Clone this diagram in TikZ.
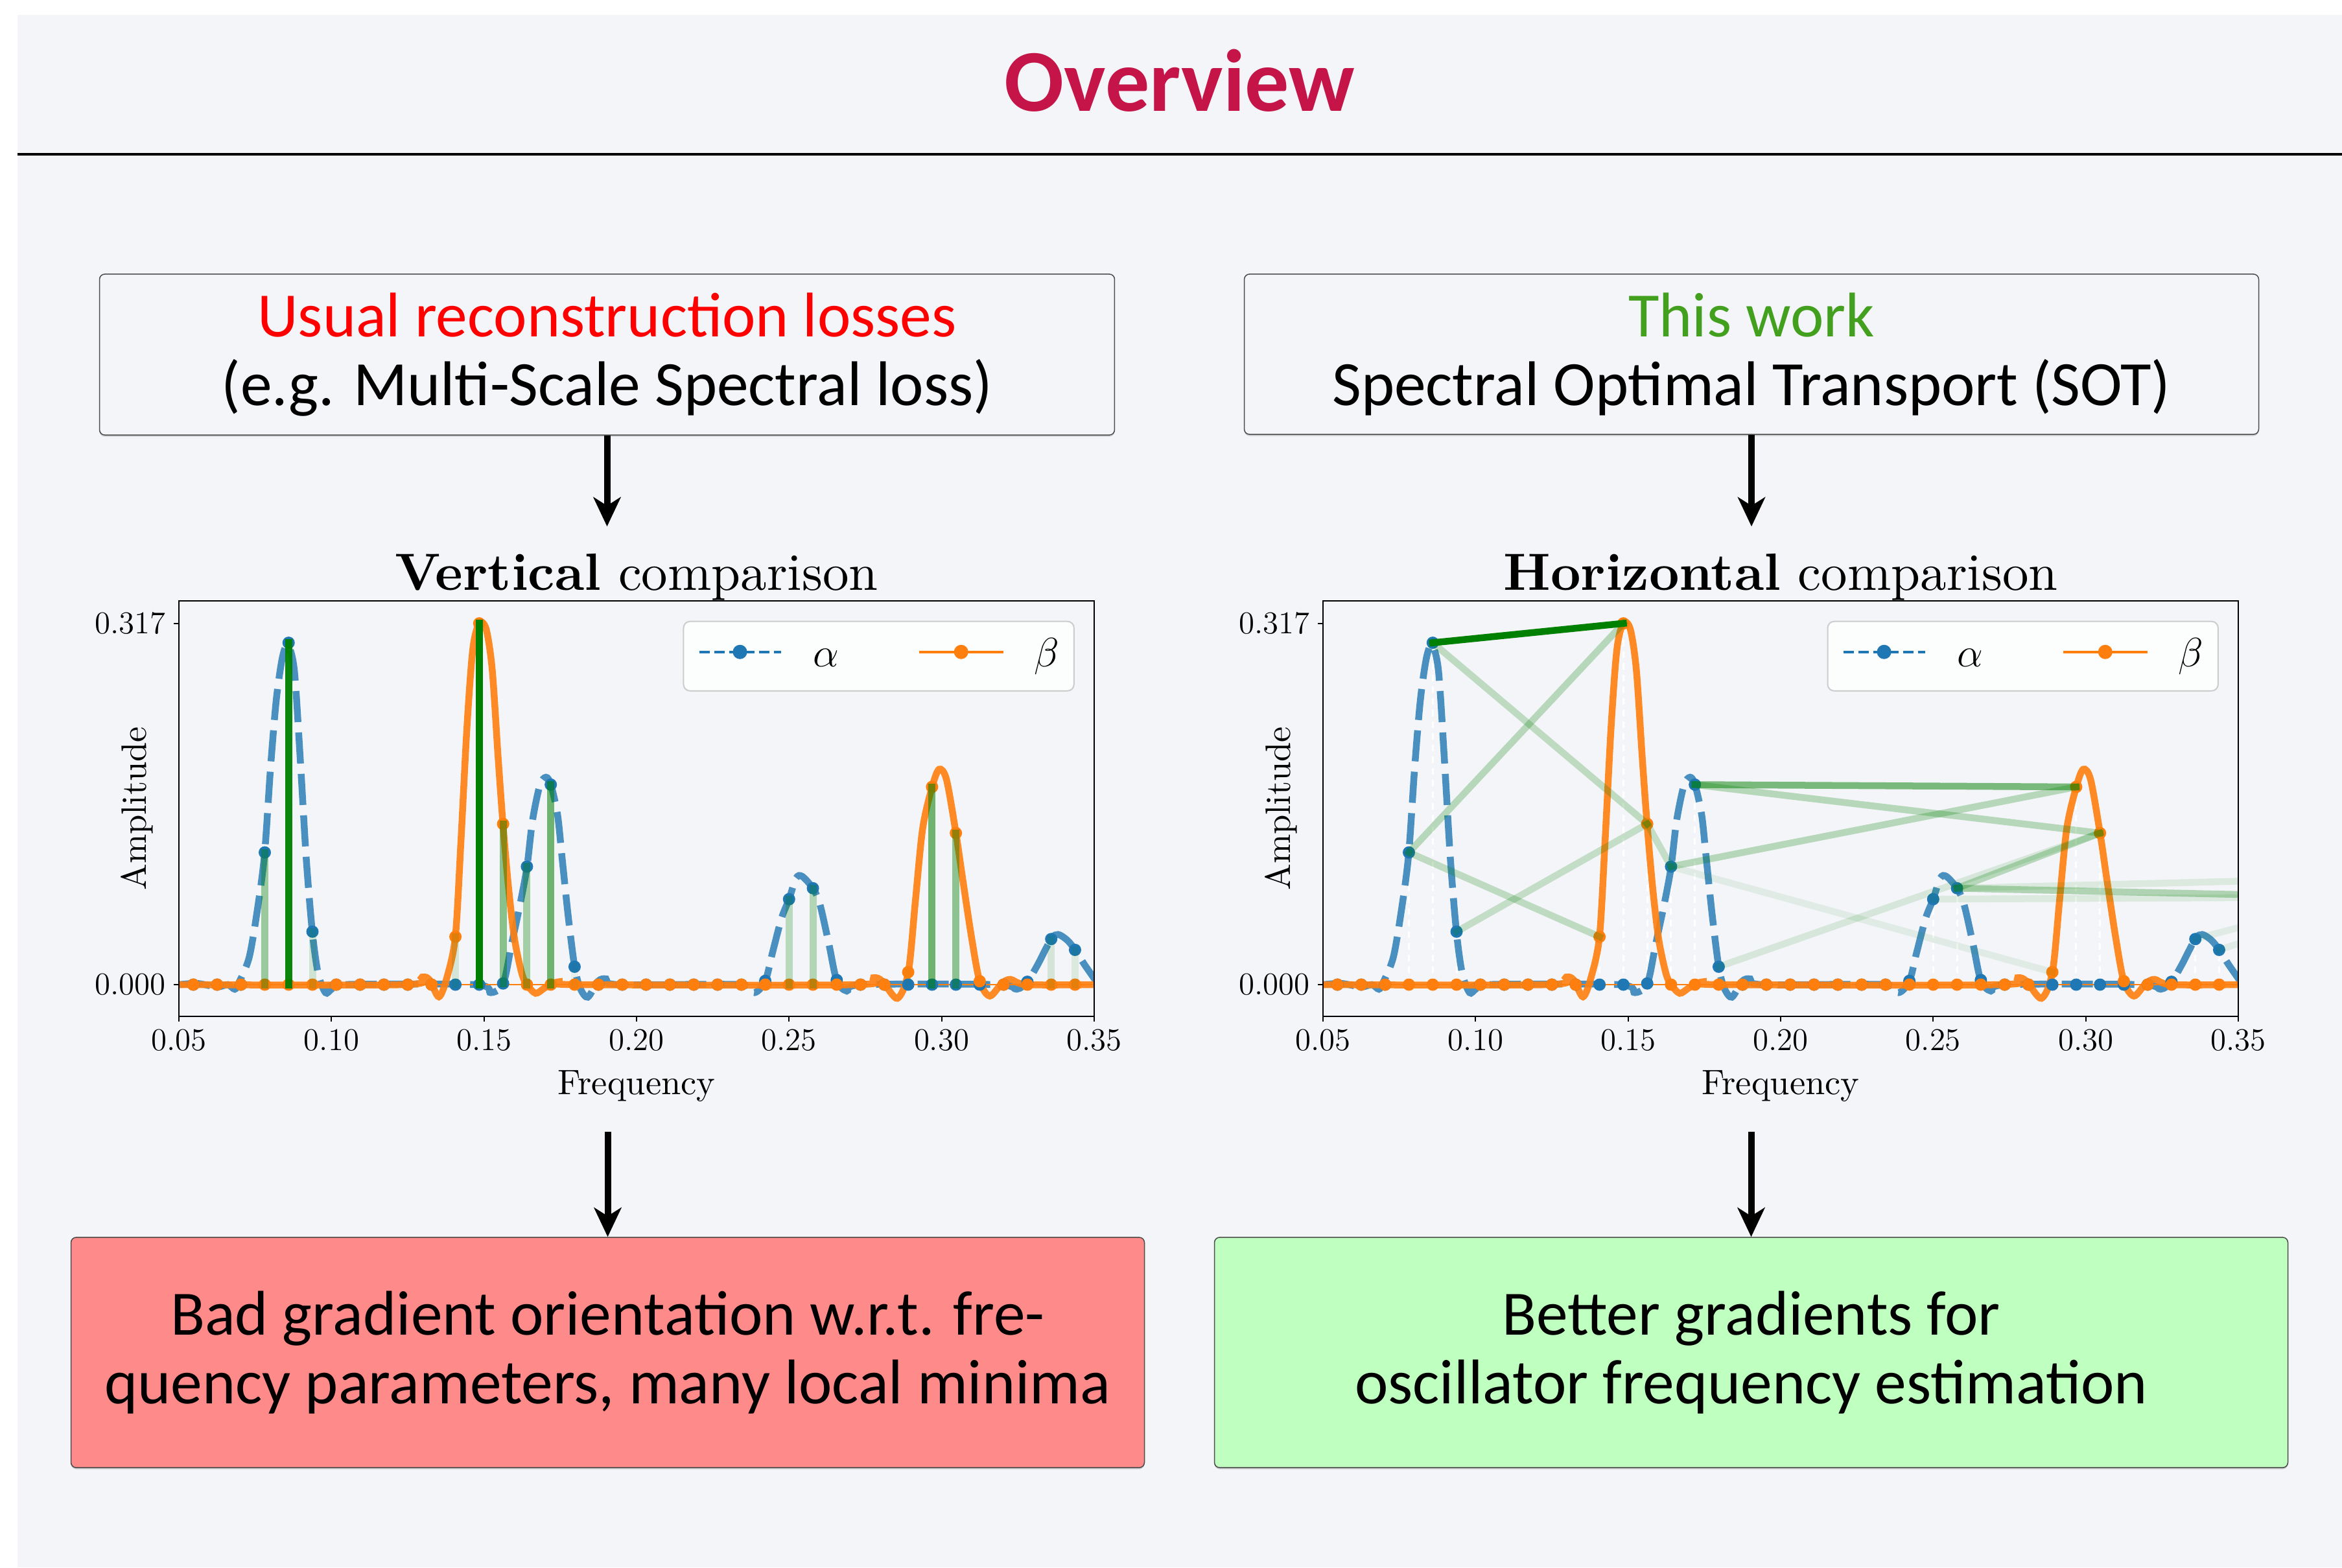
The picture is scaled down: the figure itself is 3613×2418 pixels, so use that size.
\RequirePackage{fix-cm}
\documentclass[tikz,border=0pt]{standalone}
\usepackage{fontspec}
\newfontfamily\carlito{Carlito}
\newfontfamily\lmten{lmroman10}[Extension=.otf, UprightFont=*-regular, BoldFont=*-bold, ItalicFont=*-italic]
\usetikzlibrary{arrows.meta,positioning,shadows}

\definecolor{panel}{RGB}{244,245,249}
\definecolor{crimson}{RGB}{196,20,72}
\definecolor{workgreen}{RGB}{66,160,30}
\definecolor{badred}{RGB}{255,138,138}
\definecolor{goodgreen}{RGB}{191,255,191}
\definecolor{tabblue}{RGB}{31,119,180}
\definecolor{taborange}{RGB}{255,127,14}
\definecolor{otgreen}{RGB}{0,128,0}

% spectra of alpha and beta, in data coordinates (frequency, amplitude)
\newcommand{\spectra}[3]{%
  \begin{scope}
    \clip (0.05,-0.0279) rectangle (0.35,0.3369);
    #2
    \draw[alphacurve] plot[smooth,tension=0.5] coordinates {(0.05,0) (0.056,0.001) (0.0625,-0.002) (0.066,0) (0.0683,-0.004) (0.0697,0.002) (0.0731,0.025) (0.0761,0.073) (0.0781,0.116) (0.0800,0.19) (0.0819,0.25) (0.0839,0.287) (0.0857,0.298) (0.0878,0.276) (0.0897,0.2) (0.0917,0.111) (0.0937,0.0465) (0.0956,0.01) (0.098,-0.007) (0.1,-0.004) (0.103,0) (0.147,0) (0.1522,-0.007) (0.1563,0.001) (0.159,0.035) (0.162,0.073) (0.1641,0.1036) (0.1659,0.144) (0.1683,0.175) (0.1703,0.182) (0.1719,0.1755) (0.1741,0.149) (0.1756,0.111) (0.1776,0.06) (0.1797,0.0157) (0.1815,-0.003) (0.184,-0.011) (0.1874,0.003) (0.19,0.005) (0.194,0) (0.234,0) (0.2387,-0.007) (0.2422,0.0033) (0.2445,0.0274) (0.2475,0.058) (0.25,0.075) (0.2523,0.0935) (0.2543,0.095) (0.2578,0.0846) (0.2601,0.0706) (0.2631,0.035) (0.2656,0.004) (0.2689,-0.0056) (0.274,0) (0.318,0) (0.3246,-0.004) (0.3281,0.0025) (0.3314,0.017) (0.3359,0.04) (0.3382,0.044) (0.3412,0.039) (0.3438,0.0305) (0.347,0.017) (0.352,-0.002)};
    \draw[taborange,line width=0.02cm] (0.05,0) -- (0.35,0);
    \draw[betacurve] plot[smooth,tension=0.5] coordinates {(0.05,0) (0.124,0) (0.1297,0.0066) (0.1322,0.004) (0.1352,-0.0107) (0.1378,0.006) (0.1406,0.042) (0.1424,0.124) (0.1444,0.2255) (0.1463,0.294) (0.1484,0.317) (0.1507,0.312) (0.1527,0.276) (0.1546,0.2) (0.1562,0.141) (0.158,0.086) (0.16,0.04) (0.1624,0.0097) (0.1641,0) (0.1669,-0.0076) (0.1698,-0.003) (0.1719,0) (0.1746,0.0025) (0.18,0) (0.272,0) (0.2777,0.006) (0.2806,0.003) (0.2855,-0.012) (0.2891,0.011) (0.2914,0.073) (0.2938,0.137) (0.2969,0.1735) (0.2992,0.189) (0.3016,0.18) (0.3047,0.133) (0.307,0.091) (0.3099,0.04) (0.3125,0.003) (0.3158,-0.01) (0.3197,0.001) (0.3226,0.0046) (0.328,0) (0.35,0)};
    \foreach \k/\a in {7/0,8/0,9/0,10/0.116,11/0.3,12/0.0465,13/0,14/0,15/0,16/0,17/0,18/0,19/0,20/0.001,21/0.1036,22/0.1755,23/0.0157,24/0,25/0,26/0,27/0,28/0,29/0,30/0,31/0.0033,32/0.075,33/0.0846,34/0.004,35/0,36/0,37/0,38/0,39/0,40/0,41/0,42/0.0025,43/0.04,44/0.0305}
      \fill[tabblue] (\k/128,\a) circle[radius=0.095cm];
    \foreach \k/\b in {7/0,8/0,9/0,10/0,11/0,12/0,13/0,14/0,15/0,16/0,17/0,18/0.042,19/0.317,20/0.141,21/0,22/0,23/0,24/0,25/0,26/0,27/0,28/0,29/0,30/0,31/0,32/0,33/0,34/0,35/0,36/0,37/0.011,38/0.1735,39/0.133,40/0.003,41/0,42/0,43/0,44/0}
      \fill[taborange] (\k/128,\b) circle[radius=0.095cm];
    #3
  \end{scope}
  % axes
  \draw[line width=0.02cm] (0.05,-0.0279) rectangle (0.35,0.3369);
  \foreach \t [count=\i] in {0.05,0.10,0.15,0.20,0.25,0.30,0.35}
    \draw[line width=0.02cm] (\t,-0.0279) -- ++(0,-0.08cm) node[ticklabel,below] (#1x\i) {$\t$};
  \draw[line width=0.02cm] (0.05,0) -- ++(-0.08cm,0) node[ticklabel,left] (#1y0) {$0.000$};
  \draw[line width=0.02cm] (0.05,0.317) -- ++(-0.08cm,0) node[ticklabel,left] (#1y1) {$0.317$};
  \node[axislabel,rotate=90,anchor=base] (#1amp) at (0.0392,0.1545) {Amplitude};
  % legend
  \node[legendbox] (#1leg) at (0.2794,0.28825) {};
  \draw[tabblue,line width=0.045cm,dash pattern=on 0.16cm off 0.07cm] ([xshift=0.25cm,yshift=0.065cm]#1leg.west) -- ++(1.26cm,0);
  \fill[tabblue] ([xshift=0.88cm,yshift=0.065cm]#1leg.west) circle[radius=0.11cm];
  \node[legendlabel,anchor=base] (#1alpha) at ([xshift=2.21cm,yshift=-0.165cm]#1leg.west) {$\alpha$};
  \draw[taborange,line width=0.045cm] ([xshift=3.64cm,yshift=0.065cm]#1leg.west) -- ++(1.3cm,0);
  \fill[taborange] ([xshift=4.29cm,yshift=0.065cm]#1leg.west) circle[radius=0.11cm];
  \node[legendlabel,anchor=base] (#1beta) at ([xshift=5.605cm,yshift=-0.165cm]#1leg.west) {$\beta$};
}

\begin{document}
\begin{tikzpicture}[x=0.01cm, y=-0.01cm,
    card/.style={draw=black!70, line width=0.015cm, rounded corners=0.08cm, align=center, inner sep=0pt,
      font=\carlito\fontsize{27.7}{30.4}\selectfont, drop shadow={shadow xshift=0pt, shadow yshift=-0.7pt, opacity=0.35}},
    flow/.style={-{Stealth[length=0.45cm,width=0.42cm,inset=0.13cm]}, line width=0.1cm},
    alphacurve/.style={tabblue, opacity=0.8, line width=0.105cm, dash pattern=on 0.48cm off 0.16cm},
    betacurve/.style={taborange, opacity=0.9, line width=0.105cm},
    vbar/.style={otgreen, line width=0.11cm, line cap=rect},
    otline/.style={otgreen, line width=0.105cm, line cap=rect},
    stemline/.style={white, line width=0.03cm, dash pattern=on 0.1cm off 0.08cm},
    ticklabel/.style={font=\fontsize{13.9}{16}\selectfont},
    axislabel/.style={font=\lmten\fontsize{15.5}{18}\selectfont},
    plottitle/.style={font=\lmten\fontsize{23}{27}\selectfont},
    legendbox/.style={draw=black!20, fill=white, fill opacity=0.8, line width=0.02cm, rounded corners=0.1cm,
      minimum width=6.02cm, minimum height=1.07cm, inner sep=0pt},
    legendlabel/.style={font=\fontsize{18}{20}\selectfont}]
  \useasboundingbox (0,0) rectangle (3613,2418);
  \fill[white] (0,0) rectangle (3613,2418);
  \fill[panel] (27,23) rectangle (3613,2418);

  % Title
  \node[font=\carlito\bfseries\fontsize{38.7}{42}\selectfont, text=crimson, anchor=base] (title) at (1820,171) {Overview};
  \draw[line width=0.04cm] (27,238) -- (3613,238);

  % Boxes
  \node[card, fill=panel, minimum width=15.65cm, minimum height=2.48cm] (usual) at (936.5,547)
    {\textcolor{red}{Usual reconstruction losses}\\(e.g. Multi-Scale Spectral loss)};
  \node[card, fill=panel, minimum width=15.64cm, minimum height=2.47cm] (sot) at (2702,546.5)
    {\textcolor{workgreen}{This work}\\Spectral Optimal Transport (SOT)};
  \node[card, fill=badred, minimum width=16.55cm, minimum height=3.55cm] (bad) at (937.5,2086.5)
    {Bad gradient orientation w.r.t. fre-\\quency parameters, many local minima};
  \node[card, fill=goodgreen, minimum width=16.55cm, minimum height=3.55cm] (better) at (2701.5,2086.5)
    {Better gradients for\\oscillator frequency estimation};

  % Vertical comparison
  \begin{scope}[shift={(40.85,1519)}, x=47.03cm, y=17.57cm]
    \spectra{v}{}{%
      \foreach \k/\lo/\hi/\o in {10/0/0.116/0.37, 12/0/0.0465/0.15, 18/0/0.042/0.13, 20/0.001/0.141/0.44,
          21/0/0.1036/0.33, 22/0/0.1755/0.55, 23/0/0.0157/0.05, 32/0/0.075/0.24, 33/0/0.0846/0.27,
          37/0/0.011/0.035, 38/0/0.1735/0.55, 39/0/0.133/0.42, 43/0/0.04/0.13, 44/0/0.0305/0.1,
          11/0/0.3/0.95, 19/0/0.317/1}
        \draw[vbar, opacity=\o] (\k/128,\lo) -- (\k/128,\hi);}
    \node[plottitle, anchor=base] (vtitle) at (0.2,0.346) {\textbf{Vertical} comparison};
    \node[axislabel, anchor=base] (vfreq) at (0.2,-0.0962) {Frequency};
  \end{scope}

  % Horizontal comparison
  \begin{scope}[shift={(1805.85,1519)}, x=47.03cm, y=17.57cm]
    \spectra{h}{%
      \foreach \k/\v in {10/0.116,11/0.3,12/0.0465,21/0.1036,22/0.1755,23/0.0157,32/0.075,33/0.0846,43/0.04,44/0.0305,
          18/0.042,19/0.317,20/0.141,37/0.011,38/0.1735,39/0.133}
        \draw[stemline] (\k/128,0) -- (\k/128,\v);}{%
      \foreach \ka/\va/\kb/\vb/\o in {10/0.116/18/0.042/0.22, 10/0.116/19/0.317/0.25, 11/0.3/20/0.141/0.22,
          12/0.0465/20/0.141/0.2, 21/0.1036/20/0.141/0.2, 21/0.1036/37/0.011/0.08, 21/0.1036/38/0.1735/0.25,
          22/0.1755/38/0.1735/0.5, 22/0.1755/39/0.133/0.25, 23/0.0157/39/0.133/0.12, 33/0.0846/39/0.133/0.25,
          33/0.0846/44.8/0.0791/0.28, 33/0.0846/44.8/0.0907/0.1, 32/0.075/44.8/0.0763/0.1,
          43/0.04/44.8/0.05/0.08, 44/0.0305/44.8/0.036/0.08, 11/0.3/19/0.317/1}
        \draw[otline, opacity=\o] (\ka/128,\va) -- (\kb/128,\vb);}
    \node[plottitle, anchor=base] (htitle) at (0.2,0.346) {\textbf{Horizontal} comparison};
    \node[axislabel, anchor=base] (hfreq) at (0.2,-0.0962) {Frequency};
  \end{scope}

  % Edges
  \draw[flow, shorten >=0.3cm] (usual.south) -- (usual.south |- vtitle.north);
  \draw[flow, shorten >=0.3cm] (sot.south) -- (sot.south |- htitle.north);
  \draw[flow, shorten <=0.34cm] (bad.north |- vfreq.south) -- (bad.north);
  \draw[flow, shorten <=0.34cm] (better.north |- hfreq.south) -- (better.north);
\end{tikzpicture}
\end{document}
